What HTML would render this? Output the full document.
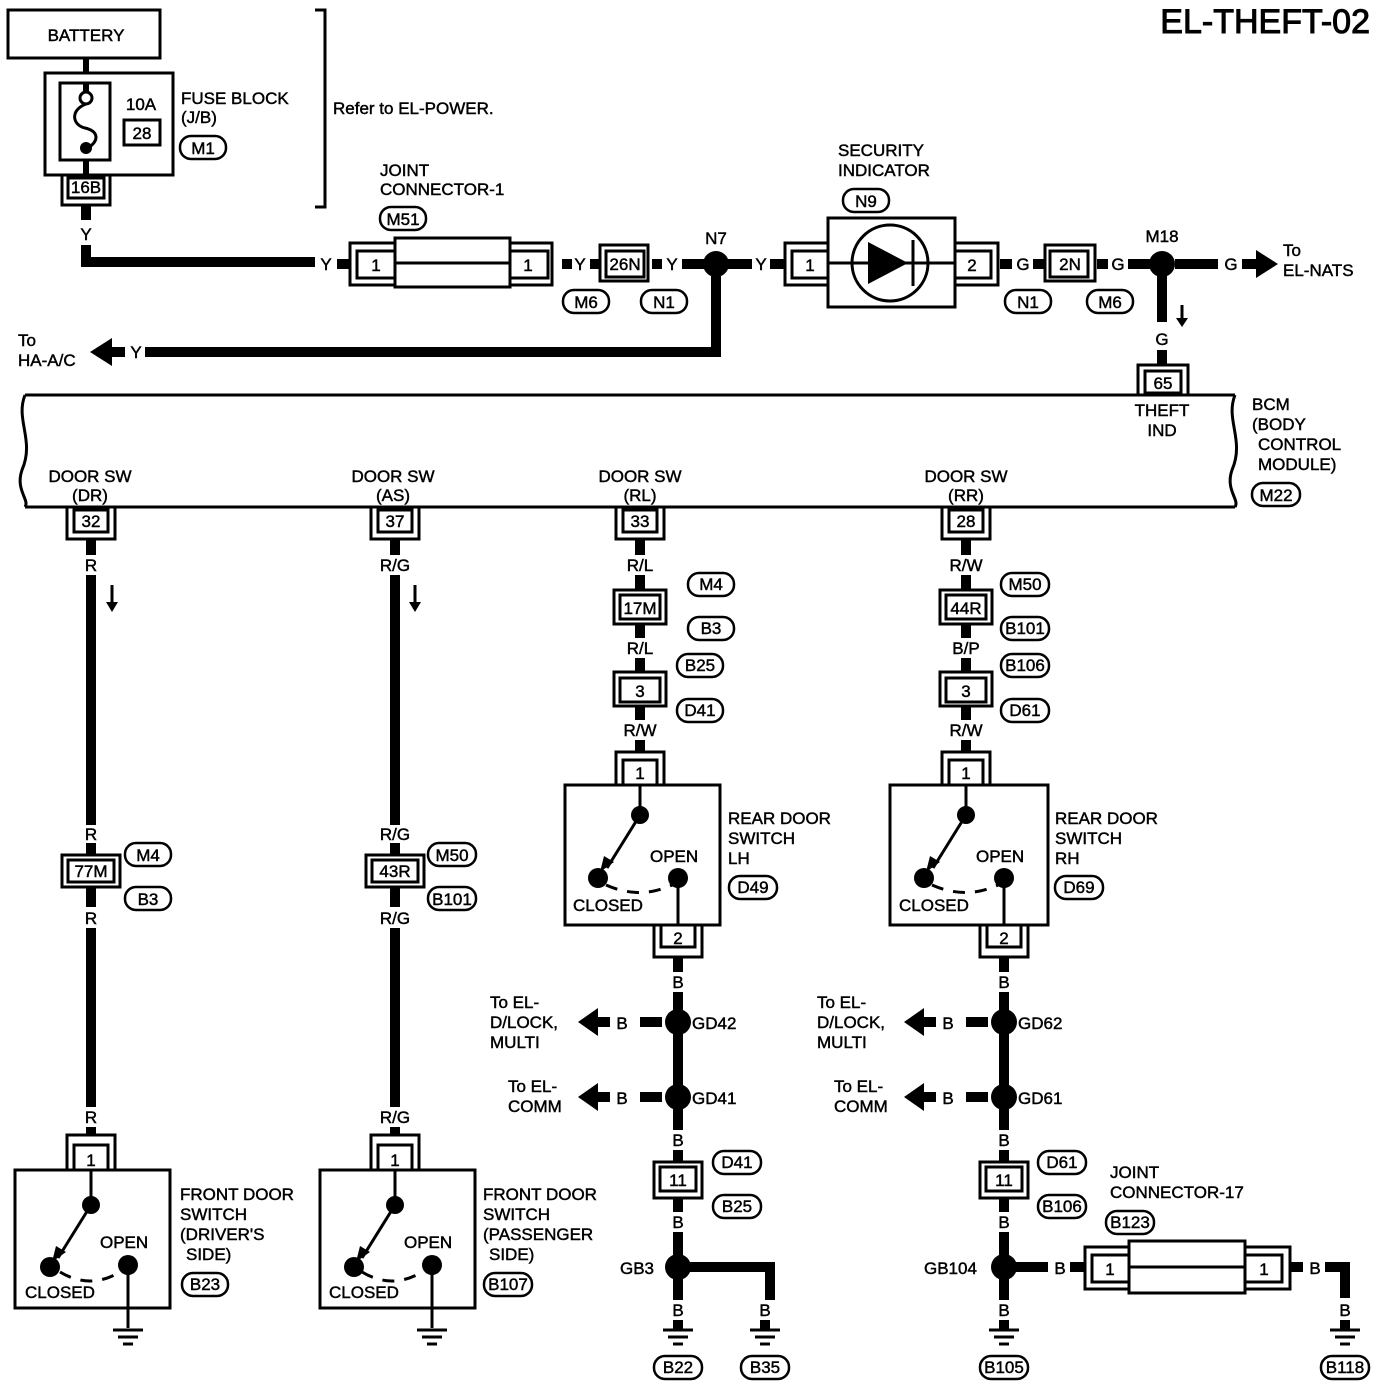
<!DOCTYPE html>
<html><head><meta charset="utf-8"><style>
html,body{margin:0;padding:0;background:#fff}
svg{display:block}
text{font-family:"Liberation Sans",sans-serif;font-size:17px;fill:#000;stroke:#000;stroke-width:0.45}
.c{text-anchor:middle}
</style></head><body>
<svg width="1392" height="1388" viewBox="0 0 1392 1388" xmlns="http://www.w3.org/2000/svg">
<g fill="none" stroke="#000" stroke-width="3">
<rect x="8" y="10" width="152" height="48"/>
<rect x="45" y="73" width="128" height="102"/>
<rect x="60" y="83" width="50" height="77"/>
<rect x="124" y="120" width="36" height="25"/>
<path d="M86 58 V73 M86 83 V92 M86 160 V175" stroke-width="6"/>
<circle cx="86" cy="98" r="6"/>
<path d="M86 104 C70 110 72 125 85 128 C98 131 100 140 88 148"/>
<rect x="62" y="175" width="48" height="30"/><rect x="68" y="178" width="36" height="20"/>
<path d="M315 10 H325 V207 H315"/>
<rect x="395" y="238" width="115" height="49"/>
<path d="M395 263 H510"/>
<rect x="350" y="243" width="45" height="42"/><rect x="357" y="251" width="38" height="27"/>
<rect x="510" y="243" width="42" height="42"/><rect x="510" y="251" width="38" height="27"/>
<rect x="600" y="245" width="48" height="36"/><rect x="606" y="251" width="38" height="26"/>
<rect x="828" y="218" width="127" height="89"/>
<circle cx="890" cy="263" r="38"/>
<path d="M828 263 H955"/>
<rect x="785" y="243" width="43" height="42"/><rect x="792" y="251" width="36" height="27"/>
<rect x="955" y="243" width="43" height="42"/><rect x="955" y="251" width="36" height="27"/>
<rect x="1045" y="245" width="50" height="36"/><rect x="1050" y="251" width="38" height="26"/>
<path d="M25 395 H1235 M25 507 H1235"/>
<path d="M25 395 C15 420 35 440 22 470 C15 490 30 500 25 507"/>
<path d="M1235 395 C1225 420 1245 440 1232 470 C1225 490 1240 500 1235 507"/>
<rect x="1138" y="365" width="50" height="30"/><rect x="1145" y="371" width="36" height="22"/>
<rect x="67" y="507" width="48" height="32"/><rect x="74" y="510" width="34" height="22"/>
<rect x="371" y="507" width="48" height="32"/><rect x="378" y="510" width="34" height="22"/>
<rect x="616" y="507" width="48" height="32"/><rect x="623" y="510" width="34" height="22"/>
<rect x="942" y="507" width="48" height="32"/><rect x="949" y="510" width="34" height="22"/>
<rect x="62" y="855" width="58" height="32"/><rect x="68" y="860" width="46" height="22"/>
<rect x="67" y="1135" width="48" height="35"/><rect x="74" y="1145" width="34" height="25"/>
<rect x="15" y="1170" width="155" height="138"/>
<rect x="366" y="855" width="58" height="32"/><rect x="372" y="860" width="46" height="22"/>
<rect x="371" y="1135" width="48" height="35"/><rect x="378" y="1145" width="34" height="25"/>
<rect x="320" y="1170" width="155" height="138"/>
<rect x="614" y="590" width="52" height="34"/><rect x="620" y="595" width="40" height="24"/>
<rect x="614" y="672" width="52" height="34"/><rect x="620" y="678" width="40" height="24"/>
<rect x="616" y="752" width="48" height="33"/><rect x="623" y="760" width="34" height="25"/>
<rect x="565" y="785" width="155" height="140"/>
<rect x="654" y="925" width="48" height="32"/><rect x="661" y="925" width="34" height="22"/>
<rect x="654" y="1162" width="48" height="36"/><rect x="660" y="1167" width="36" height="24"/>
<rect x="940" y="590" width="52" height="34"/><rect x="946" y="595" width="40" height="24"/>
<rect x="940" y="672" width="52" height="34"/><rect x="946" y="678" width="40" height="24"/>
<rect x="942" y="752" width="48" height="33"/><rect x="949" y="760" width="34" height="25"/>
<rect x="890" y="785" width="158" height="140"/>
<rect x="980" y="925" width="48" height="32"/><rect x="987" y="925" width="34" height="22"/>
<rect x="980" y="1162" width="48" height="36"/><rect x="986" y="1167" width="36" height="24"/>
<rect x="1129" y="1241" width="116" height="52"/>
<path d="M1129 1267 H1245"/>
<rect x="1085" y="1247" width="44" height="42"/><rect x="1092" y="1255" width="37" height="27"/>
<rect x="1245" y="1247" width="45" height="42"/><rect x="1245" y="1255" width="37" height="27"/>
<path d="M91 1170 V1205 M395 1170 V1205 M640 785 V815 M966 785 V815"/>
<path d="M91 1205 L58 1258 M395 1205 L362 1258 M640 815 L607 868 M966 815 L933 868"/>
<path d="M60 1272 Q90 1290 120 1272 M362 1272 Q392 1290 422 1272 M606 885 Q640 900 672 885 M932 885 Q966 900 998 885" stroke-dasharray="12 10"/>
<path d="M128 1265 V1328 M432 1265 V1328 M678 878 V925 M1004 878 V925"/>
<path d="M113 1330 H143 M118 1337 H138 M123 1344 H133 M417 1330 H447 M422 1337 H442 M427 1344 H437"/>
<path d="M663 1330 H693 M668 1337 H688 M673 1344 H683 M750 1330 H780 M755 1337 H775 M760 1344 H770"/>
<path d="M989 1330 H1019 M994 1337 H1014 M999 1344 H1009 M1330 1330 H1360 M1335 1337 H1355 M1340 1344 H1350"/>
<path d="M913 240 V286"/>
<path d="M1182 305 V322 M112 585 V606 M415 585 V606"/>
<g stroke-width="2.5">
<rect x="180" y="136" width="46" height="23" rx="11"/>
<rect x="380" y="207" width="46" height="23" rx="11"/>
<rect x="843" y="189" width="46" height="23" rx="11"/>
<rect x="563" y="290" width="46" height="23" rx="11"/>
<rect x="641" y="290" width="46" height="23" rx="11"/>
<rect x="1005" y="290" width="46" height="23" rx="11"/>
<rect x="1087" y="290" width="46" height="23" rx="11"/>
<rect x="1252" y="483" width="48" height="23" rx="11"/>
<rect x="125" y="843" width="46" height="23" rx="11"/>
<rect x="125" y="887" width="46" height="23" rx="11"/>
<rect x="428" y="843" width="48" height="23" rx="11"/>
<rect x="428" y="887" width="48" height="23" rx="11"/>
<rect x="182" y="1273" width="46" height="23" rx="11"/>
<rect x="484" y="1273" width="48" height="23" rx="11"/>
<rect x="688" y="573" width="46" height="23" rx="11"/>
<rect x="688" y="617" width="46" height="23" rx="11"/>
<rect x="677" y="654" width="46" height="23" rx="11"/>
<rect x="677" y="699" width="46" height="23" rx="11"/>
<rect x="729" y="876" width="48" height="23" rx="11"/>
<rect x="713" y="1151" width="48" height="23" rx="11"/>
<rect x="713" y="1195" width="48" height="23" rx="11"/>
<rect x="1001" y="573" width="48" height="23" rx="11"/>
<rect x="1001" y="617" width="48" height="23" rx="11"/>
<rect x="1001" y="654" width="48" height="23" rx="11"/>
<rect x="1001" y="699" width="48" height="23" rx="11"/>
<rect x="1055" y="876" width="48" height="23" rx="11"/>
<rect x="1038" y="1151" width="48" height="23" rx="11"/>
<rect x="1038" y="1195" width="48" height="23" rx="11"/>
<rect x="1106" y="1211" width="48" height="23" rx="11"/>
<rect x="654" y="1356" width="48" height="23" rx="11"/>
<rect x="741" y="1356" width="48" height="23" rx="11"/>
<rect x="980" y="1356" width="48" height="23" rx="11"/>
<rect x="1321" y="1356" width="48" height="23" rx="11"/>
</g>
</g>
<g fill="none" stroke="#000" stroke-width="10">
<path d="M86 205 V220 M86 245 V262 H315 M337 264 H350 M562 264 H572 M590 264 H600 M652 264 H662 M682 264 H706 M726 264 H752 M770 264 H785 M1000 264 H1012 M1033 264 H1045 M1097 264 H1108 M1128 264 H1150 M1175 264 H1218"/>
<path d="M716 276 V352 H145"/>
<path d="M1162 276 V322 M1162 350 V365"/>
<path d="M91 539 V555 M91 575 V825 M91 843 V855 M91 887 V907 M91 928 V1107 M91 1127 V1135"/>
<path d="M395 539 V555 M395 575 V825 M395 843 V855 M395 887 V907 M395 928 V1107 M395 1127 V1135"/>
<path d="M640 539 V555 M640 575 V590 M640 624 V638 M640 658 V672 M640 706 V720 M640 740 V752"/>
<path d="M966 539 V555 M966 575 V590 M966 624 V638 M966 658 V672 M966 706 V720 M966 740 V752"/>
<path d="M678 957 V972 M678 992 V1130 M678 1150 V1162 M678 1198 V1212 M678 1232 V1300 M678 1320 V1330"/>
<path d="M690 1267 H770 V1300 M765 1320 V1330"/>
<path d="M1004 957 V972 M1004 992 V1130 M1004 1150 V1162 M1004 1198 V1212 M1004 1232 V1300 M1004 1320 V1330"/>
<path d="M1016 1267 H1048 M1070 1267 H1085 M1290 1267 H1303 M1325 1267 H1345 V1298 M1345 1320 V1330"/>
<path d="M640 1022 H662 M640 1097 H662 M966 1022 H988 M966 1097 H988"/>
<path d="M1242 264 H1256"/>
</g>
<g fill="#000">
<polygon points="1278,264 1256,250 1256,278"/>
<polygon points="90,352 112,338 112,366"/><rect x="110" y="347" width="15" height="10"/>
<polygon points="578,1022 598,1008 598,1036"/><rect x="596" y="1017" width="14" height="10"/>
<polygon points="578,1097 598,1083 598,1111"/><rect x="596" y="1092" width="14" height="10"/>
<polygon points="904,1022 924,1008 924,1036"/><rect x="922" y="1017" width="14" height="10"/>
<polygon points="904,1097 924,1083 924,1111"/><rect x="922" y="1092" width="14" height="10"/>
<polygon points="1176,318 1188,318 1182,327"/>
<polygon points="106,602 118,602 112,612"/>
<polygon points="409,602 421,602 415,612"/>
<polygon points="868,242 868,284 908,263"/>
<circle cx="716" cy="264" r="13"/><circle cx="1162" cy="264" r="13"/>
<circle cx="86" cy="148" r="6"/>
<circle cx="678" cy="1022" r="13"/><circle cx="678" cy="1097" r="13"/><circle cx="678" cy="1267" r="13"/>
<circle cx="1004" cy="1022" r="13"/><circle cx="1004" cy="1097" r="13"/><circle cx="1004" cy="1267" r="13"/>
<circle cx="91" cy="1205" r="9"/><circle cx="50" cy="1267" r="10"/><circle cx="128" cy="1265" r="10"/>
<circle cx="395" cy="1205" r="9"/><circle cx="354" cy="1267" r="10"/><circle cx="432" cy="1265" r="10"/>
<circle cx="640" cy="815" r="9"/><circle cx="598" cy="878" r="10"/><circle cx="678" cy="878" r="10"/>
<circle cx="966" cy="815" r="9"/><circle cx="924" cy="878" r="10"/><circle cx="1004" cy="878" r="10"/>
<polygon points="52,1262 56,1246 66,1252"/><polygon points="356,1262 360,1246 370,1252"/>
<polygon points="600,872 604,856 614,862"/><polygon points="926,872 930,856 940,862"/>
</g>
<text x="1370" y="33" style="font-size:34px;text-anchor:end;stroke-width:1">EL-THEFT-02</text>
<text class="c" x="86" y="41">BATTERY</text>
<text class="c" x="141" y="110">10A</text>
<text class="c" x="142" y="139">28</text>
<text x="181" y="104">FUSE BLOCK</text><text x="181" y="123">(J/B)</text>
<text class="c" x="203" y="154">M1</text>
<text class="c" x="86" y="193">16B</text>
<text class="c" x="86" y="240">Y</text>
<text x="333" y="114">Refer to EL-POWER.</text>
<text x="380" y="176">JOINT</text><text x="380" y="195">CONNECTOR-1</text>
<text class="c" x="403" y="225">M51</text>
<text class="c" x="326" y="270">Y</text>
<text class="c" x="376" y="271">1</text><text class="c" x="528" y="271">1</text>
<text class="c" x="580" y="270">Y</text><text class="c" x="625" y="270">26N</text><text class="c" x="672" y="270">Y</text>
<text class="c" x="716" y="244">N7</text><text class="c" x="761" y="270">Y</text>
<text class="c" x="810" y="271">1</text><text class="c" x="972" y="271">2</text>
<text x="838" y="156">SECURITY</text><text x="838" y="176">INDICATOR</text>
<text class="c" x="866" y="207">N9</text>
<text class="c" x="1023" y="270">G</text><text class="c" x="1070" y="270">2N</text><text class="c" x="1118" y="270">G</text>
<text class="c" x="1162" y="242">M18</text><text class="c" x="1231" y="270">G</text>
<text x="1283" y="256">To</text><text x="1283" y="276">EL-NATS</text>
<text class="c" x="586" y="308">M6</text><text class="c" x="664" y="308">N1</text>
<text class="c" x="1028" y="308">N1</text><text class="c" x="1110" y="308">M6</text>
<text x="18" y="346">To</text><text x="18" y="366">HA-A/C</text>
<text class="c" x="136" y="358">Y</text>
<text class="c" x="1162" y="345">G</text><text class="c" x="1163" y="389">65</text>
<text class="c" x="1162" y="416">THEFT</text><text class="c" x="1162" y="436">IND</text>
<text x="1252" y="410">BCM</text><text x="1252" y="430">(BODY</text><text x="1258" y="450">CONTROL</text><text x="1258" y="470">MODULE)</text>
<text class="c" x="1276" y="501">M22</text>
<text class="c" x="90" y="482">DOOR SW</text><text class="c" x="90" y="501">(DR)</text>
<text class="c" x="393" y="482">DOOR SW</text><text class="c" x="393" y="501">(AS)</text>
<text class="c" x="640" y="482">DOOR SW</text><text class="c" x="640" y="501">(RL)</text>
<text class="c" x="966" y="482">DOOR SW</text><text class="c" x="966" y="501">(RR)</text>
<text class="c" x="91" y="527">32</text><text class="c" x="395" y="527">37</text><text class="c" x="640" y="527">33</text><text class="c" x="966" y="527">28</text>
<text class="c" x="91" y="571">R</text><text class="c" x="395" y="571">R/G</text>
<text class="c" x="91" y="840">R</text><text class="c" x="91" y="877">77M</text><text class="c" x="91" y="924">R</text><text class="c" x="91" y="1123">R</text><text class="c" x="91" y="1166">1</text>
<text class="c" x="148" y="861">M4</text><text class="c" x="148" y="905">B3</text>
<text class="c" x="395" y="840">R/G</text><text class="c" x="395" y="877">43R</text><text class="c" x="395" y="924">R/G</text><text class="c" x="395" y="1123">R/G</text><text class="c" x="395" y="1166">1</text>
<text class="c" x="452" y="861">M50</text><text class="c" x="452" y="905">B101</text>
<text x="25" y="1298">CLOSED</text><text x="100" y="1248">OPEN</text>
<text x="329" y="1298">CLOSED</text><text x="404" y="1248">OPEN</text>
<text x="180" y="1200">FRONT DOOR</text><text x="180" y="1220">SWITCH</text><text x="180" y="1240">(DRIVER'S</text><text x="186" y="1260">SIDE)</text>
<text class="c" x="205" y="1290">B23</text>
<text x="483" y="1200">FRONT DOOR</text><text x="483" y="1220">SWITCH</text><text x="483" y="1240">(PASSENGER</text><text x="489" y="1260">SIDE)</text>
<text class="c" x="508" y="1290">B107</text>
<text class="c" x="640" y="571">R/L</text><text class="c" x="640" y="614">17M</text><text class="c" x="640" y="654">R/L</text><text class="c" x="640" y="697">3</text><text class="c" x="640" y="736">R/W</text><text class="c" x="640" y="779">1</text>
<text class="c" x="711" y="590">M4</text><text class="c" x="711" y="634">B3</text><text class="c" x="700" y="671">B25</text><text class="c" x="700" y="716">D41</text>
<text class="c" x="966" y="571">R/W</text><text class="c" x="966" y="614">44R</text><text class="c" x="966" y="654">B/P</text><text class="c" x="966" y="697">3</text><text class="c" x="966" y="736">R/W</text><text class="c" x="966" y="779">1</text>
<text class="c" x="1025" y="590">M50</text><text class="c" x="1025" y="634">B101</text><text class="c" x="1025" y="671">B106</text><text class="c" x="1025" y="716">D61</text>
<text x="573" y="911">CLOSED</text><text x="650" y="862">OPEN</text>
<text x="899" y="911">CLOSED</text><text x="976" y="862">OPEN</text>
<text x="728" y="824">REAR DOOR</text><text x="728" y="844">SWITCH</text><text x="728" y="864">LH</text>
<text class="c" x="753" y="893">D49</text>
<text x="1055" y="824">REAR DOOR</text><text x="1055" y="844">SWITCH</text><text x="1055" y="864">RH</text>
<text class="c" x="1079" y="893">D69</text>
<text class="c" x="678" y="944">2</text><text class="c" x="1004" y="944">2</text>
<text class="c" x="678" y="988">B</text><text class="c" x="1004" y="988">B</text>
<text x="692" y="1029">GD42</text><text x="692" y="1104">GD41</text>
<text x="1018" y="1029">GD62</text><text x="1018" y="1104">GD61</text>
<text class="c" x="622" y="1029">B</text><text class="c" x="622" y="1104">B</text>
<text class="c" x="948" y="1029">B</text><text class="c" x="948" y="1104">B</text>
<text x="490" y="1008">To EL-</text><text x="490" y="1028">D/LOCK,</text><text x="490" y="1048">MULTI</text>
<text x="508" y="1092">To EL-</text><text x="508" y="1112">COMM</text>
<text x="817" y="1008">To EL-</text><text x="817" y="1028">D/LOCK,</text><text x="817" y="1048">MULTI</text>
<text x="834" y="1092">To EL-</text><text x="834" y="1112">COMM</text>
<text class="c" x="678" y="1146">B</text><text class="c" x="678" y="1186">11</text><text class="c" x="678" y="1228">B</text>
<text class="c" x="1004" y="1146">B</text><text class="c" x="1004" y="1186">11</text><text class="c" x="1004" y="1228">B</text>
<text class="c" x="737" y="1168">D41</text><text class="c" x="737" y="1212">B25</text>
<text class="c" x="1062" y="1168">D61</text><text class="c" x="1062" y="1212">B106</text>
<text x="620" y="1274">GB3</text><text x="924" y="1274">GB104</text>
<text class="c" x="678" y="1316">B</text><text class="c" x="765" y="1316">B</text><text class="c" x="1004" y="1316">B</text><text class="c" x="1345" y="1316">B</text>
<text class="c" x="1060" y="1274">B</text><text class="c" x="1315" y="1274">B</text>
<text class="c" x="1110" y="1275">1</text><text class="c" x="1264" y="1275">1</text>
<text x="1110" y="1178">JOINT</text><text x="1110" y="1198">CONNECTOR-17</text>
<text class="c" x="1130" y="1228">B123</text>
<text class="c" x="678" y="1373">B22</text><text class="c" x="765" y="1373">B35</text><text class="c" x="1004" y="1373">B105</text><text class="c" x="1345" y="1373">B118</text>
</svg>
</body></html>
